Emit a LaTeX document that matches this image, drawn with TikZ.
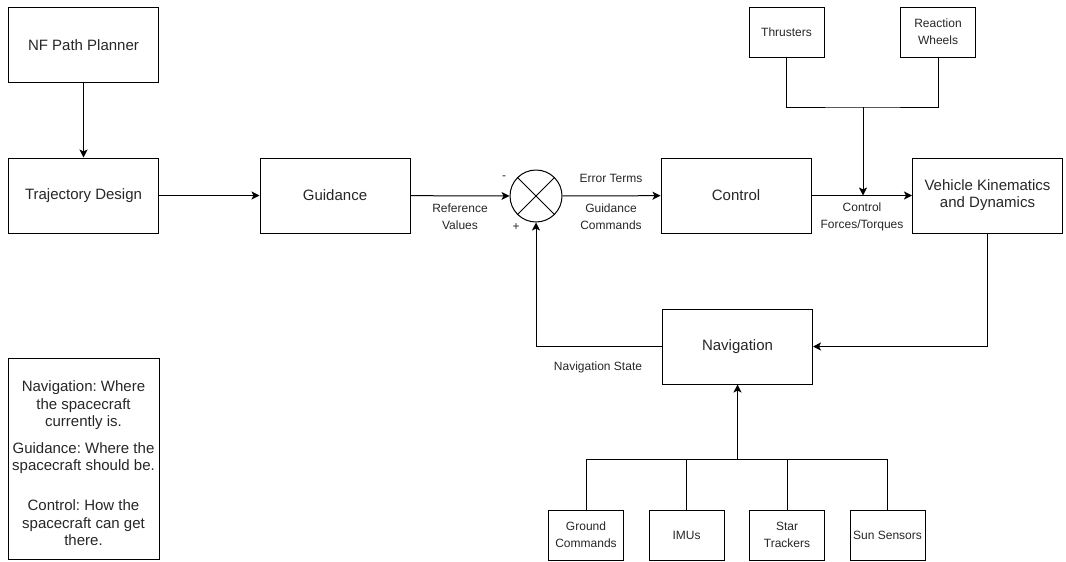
\documentclass[tikz,border=0pt]{standalone}
\usepackage{fontspec}
\setmainfont{Liberation Sans}
\usetikzlibrary{arrows.meta,positioning}
\frenchspacing

\begin{document}
\begin{tikzpicture}[x=0.75pt, y=-0.75pt, line width=0.75pt,
  blk/.style={draw, align=center, text=black!85, minimum width=112.5pt, minimum height=56.25pt, inner sep=2pt, font=\fontsize{11.25}{12.75}\selectfont},
  sblk/.style={draw, align=center, text=black!85, minimum width=56.25pt, minimum height=37.5pt, inner sep=1pt, font=\fontsize{9}{13}\selectfont},
  lbl/.style={align=center, text=black!85, inner sep=0pt, font=\fontsize{9}{12.75}\selectfont},
  arr/.style={-{Stealth[length=6pt, width=6pt, inset=1.5pt]}}]
  \useasboundingbox (0,0) rectangle (1066,561);
  % main chain
  \node[blk] (planner) at (83.5,45) {NF Path Planner};
  \node[blk] (traj) at (83.5,195.5) {Trajectory Design};
  \node[blk] (guid) at (335,195.5) {Guidance};
  \node[circle, draw, minimum size=39pt, inner sep=0pt] (sum) at (536,196) {};
  \draw (sum.north west) -- (sum.south east) (sum.north east) -- (sum.south west);
  \node[blk] (ctrl) at (736,195.5) {Control};
  \node[blk] (veh) at (987.5,195.5) {Vehicle Kinematics\\and Dynamics};
  \node[blk] (nav) at (737.5,346.5) {Navigation};
  % actuators and sensors
  \node[sblk] (thr) at (786.5,32) {Thrusters};
  \node[sblk] (rw) at (938,32) {Reaction\\Wheels};
  \node[sblk] (gnd) at (586,535) {Ground\\Commands};
  \node[sblk] (imu) at (686.5,535) {IMUs};
  \node[sblk] (star) at (787,535) {Star\\Trackers};
  \node[sblk] (sun) at (887.5,535) {Sun Sensors};
  \coordinate (act) at (863,107);
  \coordinate (bus) at (737.5,459);
  % legend
  \node[draw, align=center, text=black!85, minimum width=113.25pt, minimum height=150.75pt, inner sep=1pt,
    font=\fontsize{11.25}{13.1}\selectfont] (legend) at (83.5,458.5)
    {\rule{0pt}{15.5pt}Navigation: Where\\the spacecraft\\currently is.\\[7pt]Guidance: Where the\\spacecraft should be.\\[17pt]Control: How the\\spacecraft can get\\there.};
  % labels
  \node[lbl] (minus) at (504,178) {-};
  \node[lbl] (plus) at (516,227) {+};
  \node[lbl] (refv) at (460,216.5) {Reference\\Values};
  \node[lbl] (err) at (611,178) {Error Terms};
  \node[lbl] (gcmd) at (611,216.5) {Guidance\\Commands};
  \node[lbl] (cft) at (862,216.5) {Control\\Forces/Torques};
  \node[lbl] (navst) at (598,367) {Navigation State};
  % connectors
  \draw[arr] (planner) -- (traj);
  \draw[arr] (traj) -- (guid);
  \draw[arr] (guid) -- (sum);
  \draw[arr] (sum) -- (ctrl);
  \draw[arr] (ctrl) -- (veh);
  \draw (thr.south) |- (act) -| (rw.south);
  \draw[arr] (act) -- (act |- ctrl.east);
  \draw[arr] (veh.south) |- (nav.east);
  \draw[arr] (nav.west) -| (sum.south);
  \draw (gnd.north) |- (bus) -| (sun.north);
  \draw (imu.north) -- (imu.north |- bus);
  \draw (star.north) -- (star.north |- bus);
  \draw[arr] (bus) -- (nav.south);
\end{tikzpicture}
\end{document}
